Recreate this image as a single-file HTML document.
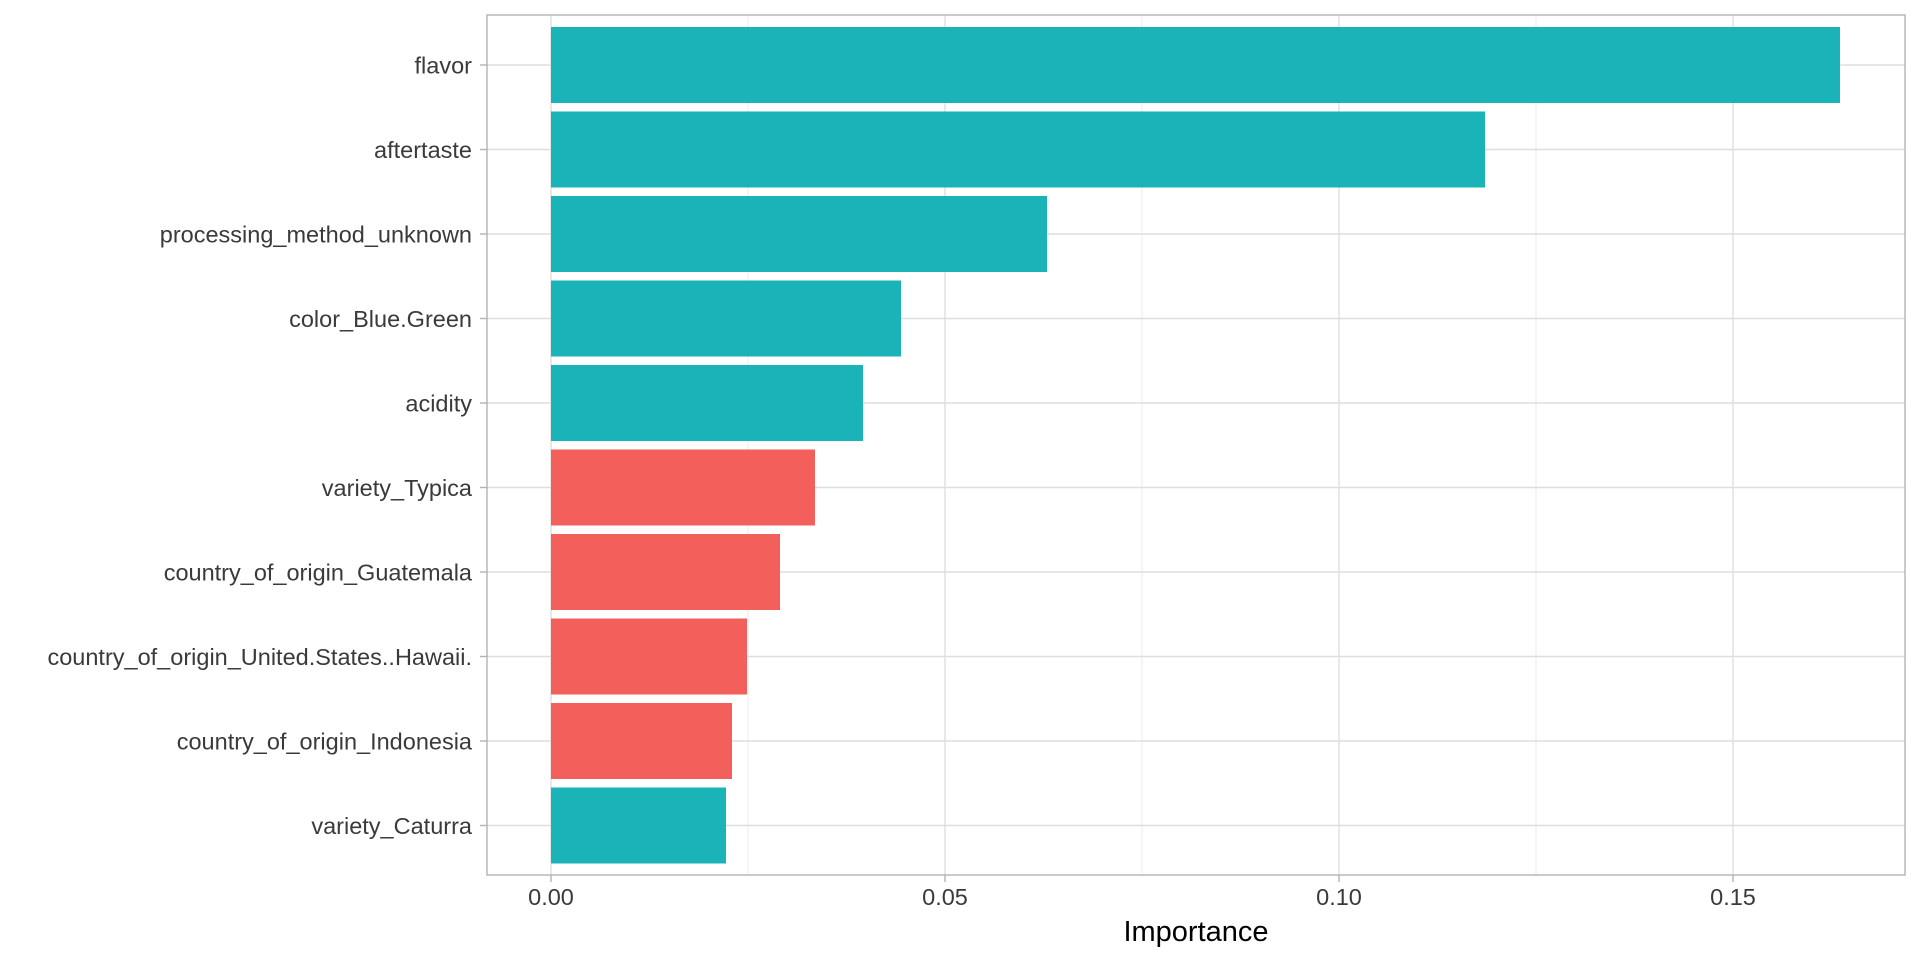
<!DOCTYPE html>
<html><head><meta charset="utf-8"><style>html,body{margin:0;padding:0;background:#fff}</style></head>
<body>
<svg width="1920" height="960" xmlns="http://www.w3.org/2000/svg" font-family="Liberation Sans, Arial, sans-serif">
<rect width="1920" height="960" fill="#fff"/>
<g stroke="#ebebeb" stroke-width="1">
<line x1="748" y1="15" x2="748" y2="875"/><line x1="1142" y1="15" x2="1142" y2="875"/><line x1="1536" y1="15" x2="1536" y2="875"/>
</g>
<g stroke="#dedede" stroke-width="1.4">
<line x1="551" y1="15" x2="551" y2="875"/><line x1="945" y1="15" x2="945" y2="875"/><line x1="1339" y1="15" x2="1339" y2="875"/><line x1="1733" y1="15" x2="1733" y2="875"/>
<line x1="487" y1="65" x2="1905" y2="65"/><line x1="487" y1="149.5" x2="1905" y2="149.5"/><line x1="487" y1="234" x2="1905" y2="234"/><line x1="487" y1="318.5" x2="1905" y2="318.5"/><line x1="487" y1="403" x2="1905" y2="403"/><line x1="487" y1="487.5" x2="1905" y2="487.5"/><line x1="487" y1="572" x2="1905" y2="572"/><line x1="487" y1="656.5" x2="1905" y2="656.5"/><line x1="487" y1="741" x2="1905" y2="741"/><line x1="487" y1="825.5" x2="1905" y2="825.5"/>
</g>
<g>
<rect x="551" y="27" width="1289" height="76" fill="#19b3b8"/>
<rect x="551" y="111.5" width="934" height="76" fill="#19b3b8"/>
<rect x="551" y="196" width="496" height="76" fill="#19b3b8"/>
<rect x="551" y="280.5" width="350" height="76" fill="#19b3b8"/>
<rect x="551" y="365" width="312" height="76" fill="#19b3b8"/>
<rect x="551" y="449.5" width="264" height="76" fill="#f35f5b"/>
<rect x="551" y="534" width="229" height="76" fill="#f35f5b"/>
<rect x="551" y="618.5" width="196" height="76" fill="#f35f5b"/>
<rect x="551" y="703" width="181" height="76" fill="#f35f5b"/>
<rect x="551" y="787.5" width="175" height="76" fill="#19b3b8"/>
</g>
<rect x="487" y="15" width="1418" height="860" fill="none" stroke="#b3b3b3" stroke-width="1.4"/>
<g stroke="#b3b3b3" stroke-width="1.4">
<line x1="480" y1="65" x2="487" y2="65"/><line x1="480" y1="149.5" x2="487" y2="149.5"/><line x1="480" y1="234" x2="487" y2="234"/><line x1="480" y1="318.5" x2="487" y2="318.5"/><line x1="480" y1="403" x2="487" y2="403"/><line x1="480" y1="487.5" x2="487" y2="487.5"/><line x1="480" y1="572" x2="487" y2="572"/><line x1="480" y1="656.5" x2="487" y2="656.5"/><line x1="480" y1="741" x2="487" y2="741"/><line x1="480" y1="825.5" x2="487" y2="825.5"/>
<line x1="551" y1="875" x2="551" y2="882"/><line x1="945" y1="875" x2="945" y2="882"/><line x1="1339" y1="875" x2="1339" y2="882"/><line x1="1733" y1="875" x2="1733" y2="882"/>
</g>
<g font-size="23.5" fill="#3a3a3a" text-anchor="end">
<text x="472" y="73.5">flavor</text>
<text x="472" y="158">aftertaste</text>
<text x="472" y="242.5">processing_method_unknown</text>
<text x="472" y="327">color_Blue.Green</text>
<text x="472" y="411.5">acidity</text>
<text x="472" y="496">variety_Typica</text>
<text x="472" y="580.5">country_of_origin_Guatemala</text>
<text x="472" y="665">country_of_origin_United.States..Hawaii.</text>
<text x="472" y="749.5">country_of_origin_Indonesia</text>
<text x="472" y="834">variety_Caturra</text>
</g>
<g font-size="23.5" fill="#3a3a3a" text-anchor="middle">
<text x="551" y="905">0.00</text><text x="945" y="905">0.05</text><text x="1339" y="905">0.10</text><text x="1733" y="905">0.15</text>
</g>
<text x="1196" y="941" font-size="29" fill="#000" text-anchor="middle">Importance</text>
</svg>
</body></html>
